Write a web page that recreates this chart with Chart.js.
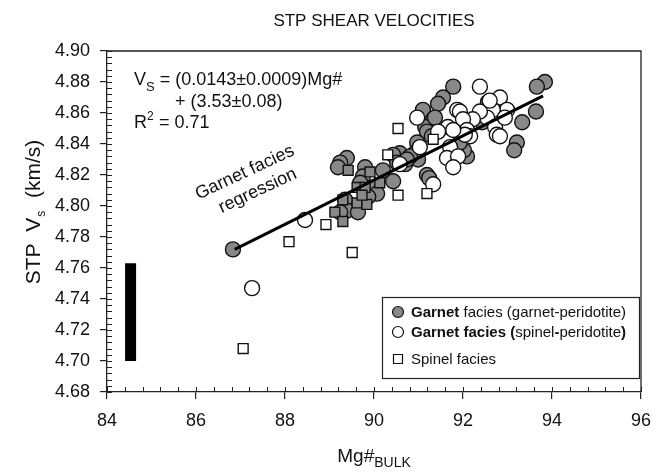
<!DOCTYPE html>
<html>
<head>
<meta charset="utf-8">
<script src="https://cdn.jsdelivr.net/npm/chart.js@4/dist/chart.umd.min.js"></script>
<style>
  html, body { margin: 0; padding: 0; background: #fff; }
  #wrap { width: 665px; height: 472px; position: relative; }
</style>
</head>
<body>
<div id="wrap"><canvas id="c"></canvas></div>
<script>
// Garnet facies (garnet-peridotite): [Mg#, Vs]
const garnetGt = [
  [91.78, 4.877], [93.84, 4.880], [93.66, 4.877], [93.64, 4.861], [93.33, 4.854],
  [93.21, 4.841], [93.15, 4.836], [92.56, 4.867], [91.55, 4.870], [91.10, 4.862],
  [91.33, 4.856], [91.15, 4.851], [91.19, 4.848], [91.30, 4.845], [90.97, 4.841],
  [90.92, 4.834], [90.99, 4.830], [91.19, 4.820], [91.24, 4.818], [90.58, 4.834],
  [90.81, 4.832], [90.43, 4.833], [90.52, 4.828], [92.09, 4.832], [92.02, 4.836],
  [91.93, 4.841], [92.09, 4.847], [92.43, 4.854], [89.39, 4.831], [89.24, 4.828],
  [89.19, 4.825], [89.80, 4.825], [89.75, 4.819], [89.69, 4.815], [89.98, 4.812],
  [90.07, 4.808], [90.43, 4.816], [89.35, 4.804], [89.39, 4.797], [89.64, 4.796],
  [89.87, 4.806], [89.24, 4.796], [86.83, 4.772], [90.20, 4.823], [90.70, 4.827],
  [91.44, 4.866], [91.37, 4.857], [90.74, 4.830]
];
// Garnet facies (spinel-peridotite)
const garnetSp = [
  [92.38, 4.877], [92.83, 4.870], [92.99, 4.862], [92.67, 4.862], [92.54, 4.857],
  [92.38, 4.861], [92.22, 4.856], [91.87, 4.862], [91.93, 4.861], [92.00, 4.856],
  [92.09, 4.849], [92.16, 4.845], [92.04, 4.846], [92.72, 4.851], [92.76, 4.846],
  [92.83, 4.845], [91.66, 4.851], [91.78, 4.849], [90.97, 4.857], [91.44, 4.848],
  [91.71, 4.838], [91.64, 4.831], [91.89, 4.832], [91.03, 4.838], [91.33, 4.814],
  [90.58, 4.827], [88.45, 4.791], [87.26, 4.747], [92.94, 4.857], [91.78, 4.825],
  [92.60, 4.868]
];
// Spinel facies
const spinelOpen = [
  [90.54, 4.850], [91.33, 4.843], [90.31, 4.833], [90.54, 4.807], [91.19, 4.808],
  [88.92, 4.788], [89.51, 4.770], [88.09, 4.777], [87.06, 4.708]
];
const spinelGrey = [
  [89.42, 4.823], [89.91, 4.822], [89.62, 4.812], [89.80, 4.812], [90.13, 4.815],
  [89.30, 4.804], [89.62, 4.802], [89.84, 4.801], [89.12, 4.796], [89.30, 4.790],
  [89.73, 4.807]
];
// Garnet facies regression end points and the black bar
const regression = [[86.87, 4.772], [93.8, 4.871]];
const blackBar = [[84.53, 4.700], [84.53, 4.763]];

const xTicks = [84, 86, 88, 90, 92, 94, 96];
const yTicks = [4.68, 4.70, 4.72, 4.74, 4.76, 4.78, 4.80, 4.82, 4.84, 4.86, 4.88, 4.90];

const FONT = "'Liberation Sans', Arial, sans-serif";
const INK = "#111";
const GREY = "#888888";

const toPts = (arr) => arr.map(([x, y]) => ({ x, y }));

// extra drawing: frame, inner ticks, titles, notes, legend
const extras = {
  id: "extras",
  afterDatasetsDraw(chart) {
    const { ctx, chartArea: a, scales } = chart;
    const xs = scales.x, ys = scales.y;
    ctx.save();
    ctx.strokeStyle = "#222";
    ctx.lineWidth = 1.3;
    // top + right frame
    ctx.beginPath();
    ctx.moveTo(a.left, a.top); ctx.lineTo(a.right, a.top); ctx.lineTo(a.right, a.bottom);
    ctx.stroke();
    // minor ticks inside
    ctx.lineWidth = 1;
    ctx.beginPath();
    for (let i = 0; i <= 30; i++) {
      const px = Math.round(xs.getPixelForValue(84 + i * 0.4)) + 0.5;
      ctx.moveTo(px, a.bottom); ctx.lineTo(px, a.bottom - 5);
    }
    for (let i = 0; i <= 55; i++) {
      const py = Math.round(ys.getPixelForValue(4.68 + i * 0.004)) + 0.5;
      ctx.moveTo(a.left, py); ctx.lineTo(a.left + 5, py);
    }
    ctx.stroke();

    ctx.fillStyle = INK;
    // title
    ctx.font = "17px " + FONT;
    ctx.textAlign = "center";
    ctx.textBaseline = "alphabetic";
    ctx.fillText("STP SHEAR VELOCITIES", (a.left + a.right) / 2, 26);

    // x axis title with subscript
    const xMain = "Mg#";
    ctx.font = "19px " + FONT;
    const w1 = ctx.measureText(xMain).width;
    ctx.font = "14px " + FONT;
    const w2 = ctx.measureText("BULK").width;
    let sx = (a.left + a.right) / 2 - (w1 + w2) / 2;
    ctx.textAlign = "left";
    ctx.font = "19px " + FONT;
    ctx.fillText(xMain, sx, 462);
    ctx.font = "14px " + FONT;
    ctx.fillText("BULK", sx + w1, 467);

    // y axis title (rotated)
    ctx.save();
    ctx.translate(40, 213);
    ctx.rotate(-Math.PI / 2);
    const p1 = "STP  V", p2 = "s", p3 = "  (km/s)";
    ctx.font = "21px " + FONT;
    const a1 = ctx.measureText(p1).width, a3 = ctx.measureText(p3).width;
    ctx.font = "12px " + FONT;
    const a2 = ctx.measureText(p2).width;
    let tx = -(a1 + a2 + a3) / 2;
    ctx.font = "21px " + FONT;
    ctx.fillText(p1, tx, 0);
    ctx.font = "12px " + FONT;
    ctx.fillText(p2, tx + a1 + 1, 5);
    ctx.font = "21px " + FONT;
    ctx.fillText(p3, tx + a1 + a2 + 2, 0);
    ctx.restore();

    // regression equation
    ctx.font = "18px " + FONT;
    ctx.fillText("V", 134, 85);
    const vw = ctx.measureText("V").width;
    ctx.font = "13px " + FONT;
    ctx.fillText("S", 134 + vw, 91);
    const sw = ctx.measureText("S").width;
    ctx.font = "18px " + FONT;
    ctx.fillText(" = (0.0143\u00b10.0009)Mg#", 134 + vw + sw, 85);
    ctx.fillText("+ (3.53\u00b10.08)", 175, 107);
    ctx.fillText("R", 134, 128);
    const rw = ctx.measureText("R").width;
    ctx.font = "12px " + FONT;
    ctx.fillText("2", 134 + rw, 120);
    ctx.font = "18px " + FONT;
    ctx.fillText(" = 0.71", 134 + rw + 7, 128);

    // regression label
    ctx.save();
    ctx.translate(252, 188);
    ctx.rotate(-25 * Math.PI / 180);
    ctx.textAlign = "center";
    ctx.font = "18px " + FONT;
    ctx.fillText("Garnet facies", 0, -12);
    ctx.fillText("regression", 4, 10);
    ctx.restore();

    // legend
    ctx.fillStyle = "#fff";
    ctx.fillRect(382, 297, 257, 81);
    ctx.strokeStyle = "#222";
    ctx.lineWidth = 1.2;
    ctx.strokeRect(382.5, 297.5, 257, 81);
    const rows = [
      { y: 312, mark: "gc", parts: [["Garnet", true], [" facies (garnet-peridotite)", false]] },
      { y: 332, mark: "wc", parts: [["Garnet facies (", true], ["spinel", false], ["-", true], ["peridotite", false], [")", true]] },
      { y: 359, mark: "sq", parts: [["Spinel facies", false]] }
    ];
    ctx.textBaseline = "middle";
    ctx.textAlign = "left";
    rows.forEach((r) => {
      ctx.lineWidth = 1.2;
      ctx.strokeStyle = "#111";
      ctx.beginPath();
      if (r.mark === "sq") {
        ctx.rect(393.5, r.y - 4.5, 9, 9);
        ctx.fillStyle = "#fff";
      } else {
        ctx.arc(398, r.y, 5.5, 0, Math.PI * 2);
        ctx.fillStyle = r.mark === "gc" ? GREY : "#fff";
      }
      ctx.fill(); ctx.stroke();
      let px = 411;
      ctx.fillStyle = INK;
      r.parts.forEach(([t, bold]) => {
        ctx.font = (bold ? "bold " : "") + "15px " + FONT;
        ctx.fillText(t, px, r.y + 1);
        px += ctx.measureText(t).width;
      });
    });
    ctx.restore();
  }
};

new Chart(document.getElementById("c"), {
  type: "scatter",
  data: {
    datasets: [
      {
        type: "line", label: "regression", data: toPts(regression),
        borderColor: "#000", borderWidth: 3, pointRadius: 0, showLine: true
      },
      {
        label: "Spinel facies", data: toPts(spinelOpen),
        pointStyle: "rect", pointRadius: 7, backgroundColor: "#fff",
        borderColor: "#111", borderWidth: 1.4
      },
      {
        label: "Spinel facies (grey)", data: toPts(spinelGrey),
        pointStyle: "rect", pointRadius: 7, backgroundColor: GREY,
        borderColor: "#111", borderWidth: 1.4
      },
      {
        label: "Garnet facies (spinel-peridotite)", data: toPts(garnetSp),
        pointRadius: 7.5, backgroundColor: "#fff", borderColor: "#111", borderWidth: 1.4
      },
      {
        label: "Garnet facies (garnet-peridotite)", data: toPts(garnetGt),
        pointRadius: 7.5, backgroundColor: GREY, borderColor: "#111", borderWidth: 1.4
      },
      {
        type: "line", label: "bar", data: toPts(blackBar),
        borderColor: "#000", borderWidth: 11, borderCapStyle: "butt",
        pointRadius: 0, showLine: true
      }
    ]
  },
  options: {
    responsive: true,
    maintainAspectRatio: false,
    animation: false,
    layout: { padding: { top: 51, right: 24, left: 0, bottom: 0 } },
    plugins: { legend: { display: false }, tooltip: { enabled: false } },
    scales: {
      x: {
        type: "linear", min: 84, max: 96,
        afterFit: (s) => { s.height = 80; },
        afterBuildTicks: (s) => { s.ticks = xTicks.map((v) => ({ value: v })); },
        ticks: {
          color: INK, padding: 11, font: { family: FONT, size: 18 },
          callback: (v) => String(v)
        },
        grid: { drawOnChartArea: false, tickLength: 7, color: "#222", lineWidth: 1.2 },
        border: { color: "#222", width: 1.3 }
      },
      y: {
        type: "linear", min: 4.68, max: 4.90,
        afterFit: (s) => { s.width = 107; },
        afterBuildTicks: (s) => { s.ticks = yTicks.map((v) => ({ value: v })); },
        ticks: {
          color: INK, padding: 10, font: { family: FONT, size: 18 },
          callback: (v) => Number(v).toFixed(2)
        },
        grid: { drawOnChartArea: false, tickLength: 7, color: "#222", lineWidth: 1.2 },
        border: { color: "#222", width: 1.3 }
      }
    }
  },
  plugins: [extras]
});
</script>
</body>
</html>
